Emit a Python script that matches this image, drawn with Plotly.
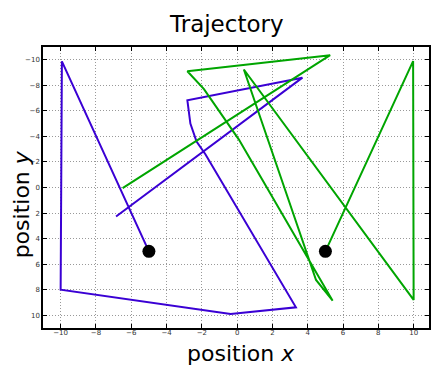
import plotly.graph_objects as go

# Data
blue_x = [-5, -9.93, -10, -0.37, 3.33, -1.8, -2.3, -2.65, -2.82, 3.7, -6.86]
blue_y = [5, -9.88, 8, 9.9, 9.38, -2.6, -3.6, -5.0, -6.82, -8.6, 2.27]

green_x = [5, 9.97, 10, 0.38, 4.47, 5.41, 1.41, 0.09, -1.88, -2.82, 5.27, -6.49]
green_y = [5, -9.9, 8.8, -9.24, 7.24, 8.86, -0.65, -3.77, -7.7, -9.1, -10.36, 0.05]

start_x = [-5, 5]
start_y = [5, 5]

tick_vals = [-10, -8, -6, -4, -2, 0, 2, 4, 6, 8, 10]

BLUE = "rgb(58,0,212)"
GREEN = "rgb(0,165,0)"
FONT = "DejaVu Sans"

fig = go.Figure()
fig.add_trace(go.Scatter(x=blue_x, y=blue_y, mode="lines",
                         line=dict(color=BLUE, width=2), showlegend=False))
fig.add_trace(go.Scatter(x=green_x, y=green_y, mode="lines",
                         line=dict(color=GREEN, width=2), showlegend=False))
fig.add_trace(go.Scatter(x=start_x, y=start_y, mode="markers",
                         marker=dict(color="black", size=13), showlegend=False))

axis_common = dict(
    tickvals=tick_vals,
    showgrid=True, gridcolor="#999999", griddash="1px,2px", gridwidth=1,
    zeroline=False,
    showline=True, linecolor="black", linewidth=1.5, mirror="ticks",
    ticks="inside", ticklen=4, tickcolor="black", tickwidth=1,
    tickfont=dict(size=7, color="#333333", family="DejaVu Sans"),
)

fig.update_layout(
    width=431, height=366,
    margin=dict(l=43, r=0, t=47, b=38),
    paper_bgcolor="white", plot_bgcolor="white",
    font=dict(family=FONT, color="black"),
    xaxis=dict(range=[-11, 10.87], ticklabelstandoff=-3, **axis_common),
    yaxis=dict(range=[11, -11], **axis_common),
    annotations=[
        dict(text="Trajectory", xref="paper", yref="paper", x=0.4755, y=1,
             yshift=23, xanchor="center", yanchor="middle", showarrow=False,
             font=dict(size=23, family=FONT, color="black")),
        dict(text="position <i>x</i>", xref="paper", yref="paper", x=0.513, y=0,
             yshift=-25, xanchor="center", yanchor="middle", showarrow=False,
             font=dict(size=22, family=FONT, color="black")),
        dict(text="position <i>y</i>", xref="paper", yref="paper", x=0, y=0.44,
             xshift=-22, xanchor="center", yanchor="middle", showarrow=False,
             textangle=-90,
             font=dict(size=22, family=FONT, color="black")),
    ],
)

fig.write_html("out.html", config={"displayModeBar": False},
               post_script="document.body.style.margin='0';document.body.style.overflow='hidden';")
